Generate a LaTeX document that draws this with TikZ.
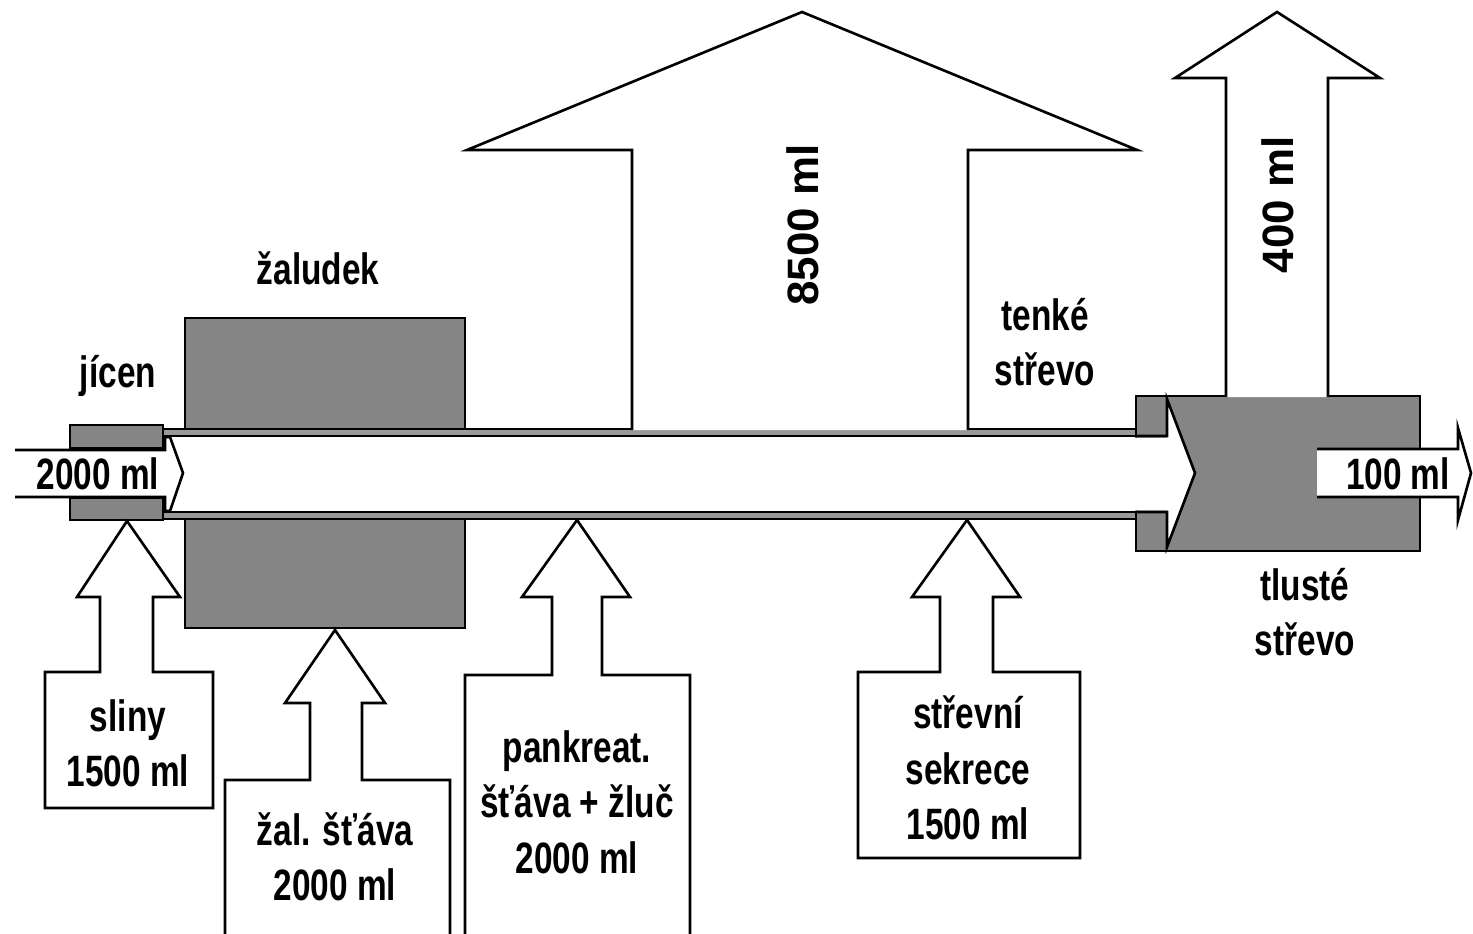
\documentclass[tikz,border=0pt]{standalone}
\usepackage{fontspec}
\setmainfont{Liberation Sans}
\newfontfamily\narrowfont{Liberation Sans}[FakeStretch=0.76]
\begin{document}
\begin{tikzpicture}[x=0.02cm,y=-0.02cm,
  outl/.style={draw=black,line width=1.5pt,line join=miter},
  blockarr/.style={outl,fill=white},
  tissue/.style={draw=black,line width=1.5pt,fill=black!48},
  wall/.style={draw=black,line width=1.1pt,fill=black!40},
  lbl/.style={font=\narrowfont\bfseries\fontsize{25}{31.5}\selectfont,align=center,inner sep=0pt},
  vlbl/.style={font=\bfseries\fontsize{25}{30}\selectfont,rotate=90,inner sep=0pt}]
\useasboundingbox[fill=white] (0,0) rectangle (1473,933);

% tissues
\draw[tissue] (185,318) rectangle (465,432);
\draw[tissue] (185,515) rectangle (465,628);
\draw[tissue] (70,425) rectangle (163,448);
\draw[tissue] (70,498) rectangle (163,520);
\draw[tissue] (1136,396) rectangle (1420,551);

% thin tube walls
\draw[wall] (163,429) rectangle (1136,436);
\draw[wall] (163,512) rectangle (1136,519);

% entry of small intestine into large intestine (chevron)
\fill[white] (1132,437.5) -- (1167,437.5) -- (1167,399) -- (1195,473) -- (1167,547) -- (1167,510.5) -- (1132,510.5) -- cycle;
\draw[outl] (1136,436) -- (1167,436) -- (1167,399) -- (1195,473) -- (1167,547) -- (1167,512) -- (1136,512);

% input arrow (2000 ml)
\fill[white] (15,450) -- (165,450) -- (165,437) -- (170,437) -- (183,473) -- (170,511) -- (165,511) -- (165,497) -- (15,497) -- cycle;
\draw[outl] (15,450) -- (165,450) -- (165,437) -- (170,437) -- (183,473) -- (170,511) -- (165,511) -- (165,497) -- (15,497);

% output arrow (100 ml)
\fill[white] (1317,449) rectangle (1458,497);
\draw[blockarr] (1317,449) -- (1458,449) -- (1458,428) -- (1471,473) -- (1458,520) -- (1458,497) -- (1317,497);

% absorption arrows
\draw[blockarr] (632,430) -- (632,150) -- (467,150) -- (802,12) -- (1137,150) -- (968,150) -- (968,430);
\draw[blockarr] (1226,397) -- (1226,78) -- (1175,78) -- (1277,12) -- (1380,78) -- (1328,78) -- (1328,397);

% secretion boxes with arrows
\draw[blockarr] (45,808) -- (45,672) -- (100,672) -- (100,597) -- (77,597) -- (127,521) -- (180,597) -- (153,597) -- (153,672) -- (213,672) -- (213,808) -- cycle;
\draw[blockarr] (225,940) -- (225,780) -- (310,780) -- (310,703) -- (285,703) -- (335,630) -- (385,703) -- (362,703) -- (362,780) -- (450,780) -- (450,940);
\draw[blockarr] (465,940) -- (465,675) -- (552,675) -- (552,597) -- (522,597) -- (577,520) -- (630,597) -- (602,597) -- (602,675) -- (690,675) -- (690,940);
\draw[blockarr] (858,858) -- (858,672) -- (940,672) -- (940,597) -- (912,597) -- (967,520) -- (1020,597) -- (993,597) -- (993,672) -- (1080,672) -- (1080,858) -- cycle;

% labels
\node[lbl] (jicen) at (118,376) {jícen};
\node[lbl] (zaludek) at (318,268) {žaludek};
\node[lbl] (tenke) at (1045,342) {tenké\\střevo};
\node[lbl] (tluste) at (1305,612) {tlusté\\střevo};
\node[lbl] (inml) at (98,474) {2000 ml};
\node[lbl] (outml) at (1398,474) {100 ml};
\node[lbl] (sliny) at (128,743) {sliny\\1500 ml};
\node[lbl] (zal) at (335,857) {žal. šťáva\\2000 ml};
\node[lbl] (pank) at (577,802) {pankreat.\\šťáva + žluč\\2000 ml};
\node[lbl] (strev) at (968,768) {střevní\\sekrece\\1500 ml};
\node[vlbl] (abs1) at (803,225) {8500 ml};
\node[vlbl] (abs2) at (1278,205) {400 ml};
\end{tikzpicture}
\end{document}
